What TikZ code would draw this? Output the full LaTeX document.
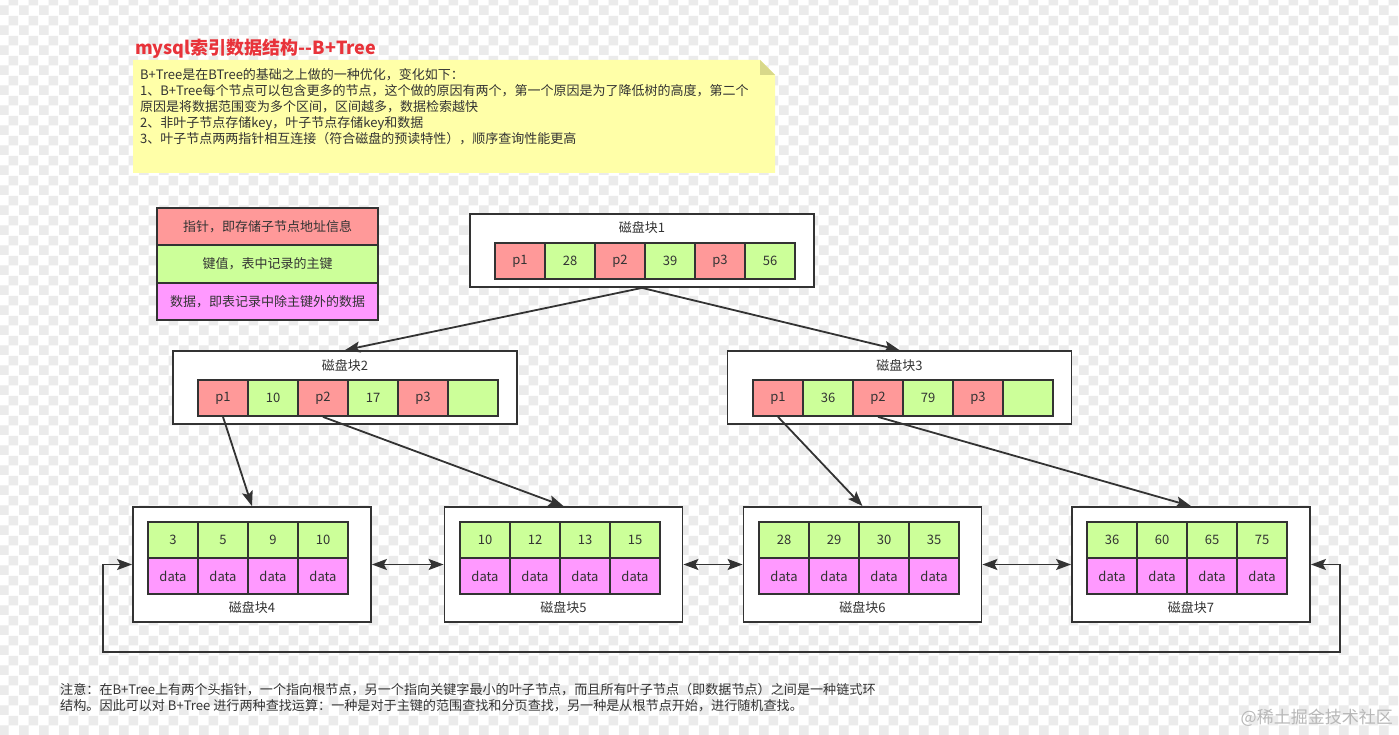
\documentclass[tikz,border=0pt]{standalone}
\usepackage{fontspec}
\setmainfont{Noto Sans CJK SC}
\usetikzlibrary{positioning,arrows.meta,patterns}
\definecolor{ptrred}{HTML}{FF9999}
\definecolor{keygreen}{HTML}{CCFF99}
\definecolor{datapink}{HTML}{FF99FF}
\definecolor{inkgrey}{HTML}{333333}
\definecolor{noteyellow}{HTML}{FFFFA8}
\definecolor{notefold}{HTML}{D8D88A}
\definecolor{titlered}{HTML}{E8333A}
\definecolor{checkgrey}{HTML}{EBEBEB}
\pgfdeclarepatternformonly{checker}{\pgfpointorigin}{\pgfqpoint{20pt}{20pt}}{\pgfqpoint{20pt}{20pt}}{%
  \pgfpathrectangle{\pgfpointorigin}{\pgfqpoint{10pt}{10pt}}%
  \pgfpathrectangle{\pgfqpoint{10pt}{10pt}}{\pgfqpoint{10pt}{10pt}}%
  \pgfusepath{fill}}
\tikzset{
  cell/.style={rectangle, draw=inkgrey, fill=#1, line width=1.8pt,
               minimum width=50pt, minimum height=36pt, inner sep=0pt,
               font=\fontsize{13}{15}\selectfont, text=inkgrey},
  disk/.style={rectangle, draw=inkgrey, fill=white, line width=1.8pt,
               minimum width=#1, inner sep=0pt},
  lgd/.style={rectangle, draw=inkgrey, fill=#1, line width=1.8pt,
              minimum width=221pt, minimum height=37.5pt, inner sep=0pt,
              font=\fontsize{13}{15}\selectfont, text=inkgrey},
  lbl/.style={font=\fontsize{13}{15}\selectfont, text=inkgrey, inner sep=0pt},
  txt/.style={font=\fontsize{#1}{16}\selectfont, text=inkgrey, align=left,
              inner sep=0pt, anchor=north west},
  ar/.style={-{Stealth[length=15pt,width=11pt,inset=3pt]}, line width=1.8pt, draw=inkgrey},
  biar/.style={{Stealth[length=15pt,width=11pt,inset=3pt]}-{Stealth[length=15pt,width=11pt,inset=3pt]},
               line width=1.8pt, draw=inkgrey},
}

\begin{document}
\begin{tikzpicture}[x=1pt,y=-1pt]
  \fill[white] (0,0) rectangle (1399,735);
  \fill[pattern=checker, pattern color=checkgrey] (0,0) rectangle (1399,735);
  \useasboundingbox (0,0) rectangle (1399,735);

  % title and note
  \node[anchor=west, inner sep=0pt, text=titlered, font=\fontsize{18}{20}\selectfont\bfseries]
    (title) at (135,49) {mysql索引数据结构-{}-B+Tree};
  \fill[noteyellow] (133,60) -- (760,60) -- (775,75) -- (775,173) -- (133,173) -- cycle;
  \fill[notefold] (760,60) -- (775,75) -- (760,75) -- cycle;
  \node[txt=13] (notetext) at (140,68) {B+Tree是在BTree的基础之上做的一种优化，变化如下：\\
    1、B+Tree每个节点可以包含更多的节点，这个做的原因有两个，第一个原因是为了降低树的高度，第二个\\
    原因是将数据范围变为多个区间，区间越多，数据检索越快\\
    2、非叶子节点存储key，叶子节点存储key和数据\\
    3、叶子节点两两指针相互连接（符合磁盘的预读特性），顺序查询性能更高};

  % legend
  \node[lgd=ptrred]   (lgptr)  at (267.5,226.5) {指针，即存储子节点地址信息};
  \node[lgd=keygreen] (lgkey)  at (267.5,264)   {键值，表中记录的主键};
  \node[lgd=datapink] (lgdata) at (267.5,301.5) {数据，即表记录中除主键外的数据};

  % root
  \node[disk=344pt, minimum height=73pt] (disk1) at (642,250.5) {};
  \node[lbl] (lab1) at (642,228) {磁盘块1};
  \node[cell=ptrred]   (d1p1) at (520,261) {p1};
  \node[cell=keygreen] (d1k1) at (570,261) {28};
  \node[cell=ptrred]   (d1p2) at (620,261) {p2};
  \node[cell=keygreen] (d1k2) at (670,261) {39};
  \node[cell=ptrred]   (d1p3) at (720,261) {p3};
  \node[cell=keygreen] (d1k3) at (770,261) {56};

  % second level
  \node[disk=344pt, minimum height=73pt] (disk2) at (345,387.5) {};
  \node[lbl] (lab2) at (345,366) {磁盘块2};
  \node[cell=ptrred]   (d2p1) at (223,398) {p1};
  \node[cell=keygreen] (d2k1) at (273,398) {10};
  \node[cell=ptrred]   (d2p2) at (323,398) {p2};
  \node[cell=keygreen] (d2k2) at (373,398) {17};
  \node[cell=ptrred]   (d2p3) at (423,398) {p3};
  \node[cell=keygreen] (d2k3) at (473,398) {};

  \node[disk=344pt, minimum height=73pt] (disk3) at (899.5,387.5) {};
  \node[lbl] (lab3) at (899.5,366) {磁盘块3};
  \node[cell=ptrred]   (d3p1) at (778,398)  {p1};
  \node[cell=keygreen] (d3k1) at (828,398)  {36};
  \node[cell=ptrred]   (d3p2) at (878,398)  {p2};
  \node[cell=keygreen] (d3k2) at (928,398)  {79};
  \node[cell=ptrred]   (d3p3) at (978,398)  {p3};
  \node[cell=keygreen] (d3k3) at (1028,398) {};

  % leaves
  \node[disk=238pt, minimum height=115pt] (disk4) at (252,564.5) {};
  \node[lbl] (lab4) at (252,608) {磁盘块4};
  \node[cell=keygreen] (d4k1) at (173,540) {3};
  \node[cell=keygreen] (d4k2) at (223,540) {5};
  \node[cell=keygreen] (d4k3) at (273,540) {9};
  \node[cell=keygreen] (d4k4) at (323,540) {10};
  \node[cell=datapink] (d4d1) at (173,576) {data};
  \node[cell=datapink] (d4d2) at (223,576) {data};
  \node[cell=datapink] (d4d3) at (273,576) {data};
  \node[cell=datapink] (d4d4) at (323,576) {data};

  \node[disk=238pt, minimum height=115pt] (disk5) at (563.5,564.5) {};
  \node[lbl] (lab5) at (563.5,608) {磁盘块5};
  \node[cell=keygreen] (d5k1) at (485,540) {10};
  \node[cell=keygreen] (d5k2) at (535,540) {12};
  \node[cell=keygreen] (d5k3) at (585,540) {13};
  \node[cell=keygreen] (d5k4) at (635,540) {15};
  \node[cell=datapink] (d5d1) at (485,576) {data};
  \node[cell=datapink] (d5d2) at (535,576) {data};
  \node[cell=datapink] (d5d3) at (585,576) {data};
  \node[cell=datapink] (d5d4) at (635,576) {data};

  \node[disk=238pt, minimum height=115pt] (disk6) at (862.5,564.5) {};
  \node[lbl] (lab6) at (862.5,608) {磁盘块6};
  \node[cell=keygreen] (d6k1) at (784,540) {28};
  \node[cell=keygreen] (d6k2) at (834,540) {29};
  \node[cell=keygreen] (d6k3) at (884,540) {30};
  \node[cell=keygreen] (d6k4) at (934,540) {35};
  \node[cell=datapink] (d6d1) at (784,576) {data};
  \node[cell=datapink] (d6d2) at (834,576) {data};
  \node[cell=datapink] (d6d3) at (884,576) {data};
  \node[cell=datapink] (d6d4) at (934,576) {data};

  \node[disk=238pt, minimum height=115pt] (disk7) at (1191,564.5) {};
  \node[lbl] (lab7) at (1191,608) {磁盘块7};
  \node[cell=keygreen] (d7k1) at (1112,540) {36};
  \node[cell=keygreen] (d7k2) at (1162,540) {60};
  \node[cell=keygreen] (d7k3) at (1212,540) {65};
  \node[cell=keygreen] (d7k4) at (1262,540) {75};
  \node[cell=datapink] (d7d1) at (1112,576) {data};
  \node[cell=datapink] (d7d2) at (1162,576) {data};
  \node[cell=datapink] (d7d3) at (1212,576) {data};
  \node[cell=datapink] (d7d4) at (1262,576) {data};

  % pointers
  \draw[ar] (disk1.south) -- (disk2.north);
  \draw[ar] (disk1.south) -- (disk3.north);
  \draw[ar] (d2p1.south) -- (disk4.north);
  \draw[ar] (d2p2.south) -- (disk5.north);
  \draw[ar] (d3p1.south) -- (disk6.north);
  \draw[ar] (d3p2.south) -- (disk7.north);

  \draw[biar] (disk4.east) -- (disk5.west);
  \draw[biar] (disk5.east) -- (disk6.west);
  \draw[biar] (disk6.east) -- (disk7.west);
  \coordinate (loopL) at (103,652);
  \coordinate (loopR) at (1340,652);
  \draw[biar] (disk4.west) -| (loopL) -- (loopR) |- (disk7.east);

  % remark
  \node[txt=13.1] (remark) at (60,683) {注意：在B+Tree上有两个头指针，一个指向根节点，另一个指向关键字最小的叶子节点，而且所有叶子节点（即数据节点）之间是一种链式环\\
    结构。因此可以对 B+Tree 进行两种查找运算：一种是对于主键的范围查找和分页查找，另一种是从根节点开始，进行随机查找。};
  \node[anchor=east, inner sep=0pt, text=black!28, font=\fontsize{17}{19}\selectfont]
    (mark) at (1393,718) {@稀土掘金技术社区};
\end{tikzpicture}
\end{document}
